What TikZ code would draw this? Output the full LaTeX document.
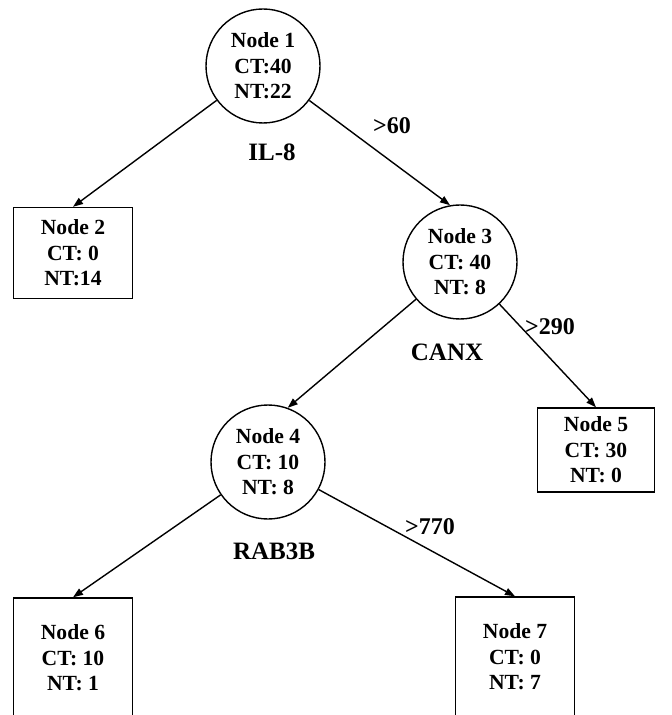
\documentclass[tikz,border=0pt]{standalone}
\usepackage{fontspec}
\setmainfont{Liberation Serif}
\usetikzlibrary{arrows.meta}

\begin{document}
\begin{tikzpicture}[x=0.5pt, y=-0.5pt, line width=0.7pt,
  font=\bfseries\fontsize{10.8}{12.8}\selectfont, >={Triangle[length=5pt, width=3.6pt]},
  split/.style={draw, circle, minimum size=57pt, inner sep=0pt, align=center},
  leaf/.style={draw, rectangle, minimum width=59.5pt, minimum height=45.5pt, inner sep=0pt, align=center},
  gene/.style={font=\bfseries\fontsize{12.5}{14}\selectfont},
  cut/.style={font=\bfseries\fontsize{12}{14}\selectfont},
]
  \useasboundingbox (0,0) rectangle (672,715);
  % splits
  \node[split] (N1) at (263,66)  {Node 1\\CT:40\\NT:22};
  \node[split] (N3) at (460,262) {Node 3\\CT: 40\\NT: 8};
  \node[split] (N4) at (268,462) {Node 4\\CT: 10\\NT: 8};
  % leaves (the last two run off the page)
  \node[leaf] (N2) at (73,253)  {Node 2\\CT: 0\\NT:14};
  \node[leaf, minimum width=58.5pt, minimum height=42pt] (N5) at (596,450) {Node 5\\CT: 30\\NT: 0};
  \node[leaf, minimum height=60pt] (N6) at (73,658)  {Node 6\\CT: 10\\NT: 1};
  \node[leaf, minimum height=60pt] (N7) at (515,657) {Node 7\\CT: 0\\NT: 7};
  % gene names and cut values
  \node[gene] (G1) at (272,152) {IL-8};
  \node[gene] (G3) at (447,352) {CANX};
  \node[gene] (G4) at (274,551) {RAB3B};
  \node[cut] (C1) at (392,126) {>60};
  \node[cut] (C3) at (550,327) {>290};
  \node[cut] (C4) at (430,527) {>770};
  \draw[->] (N1) -- (N2.north);
  \draw[->] (N1) -- (N3.100);
  \draw[->] (N3) -- (N4.70);
  \draw[->] (N3) -- (N5.north);
  \draw[->] (N4) -- (N6.north);
  \draw[->] (N4) -- (N7.north);
\end{tikzpicture}
\end{document}
